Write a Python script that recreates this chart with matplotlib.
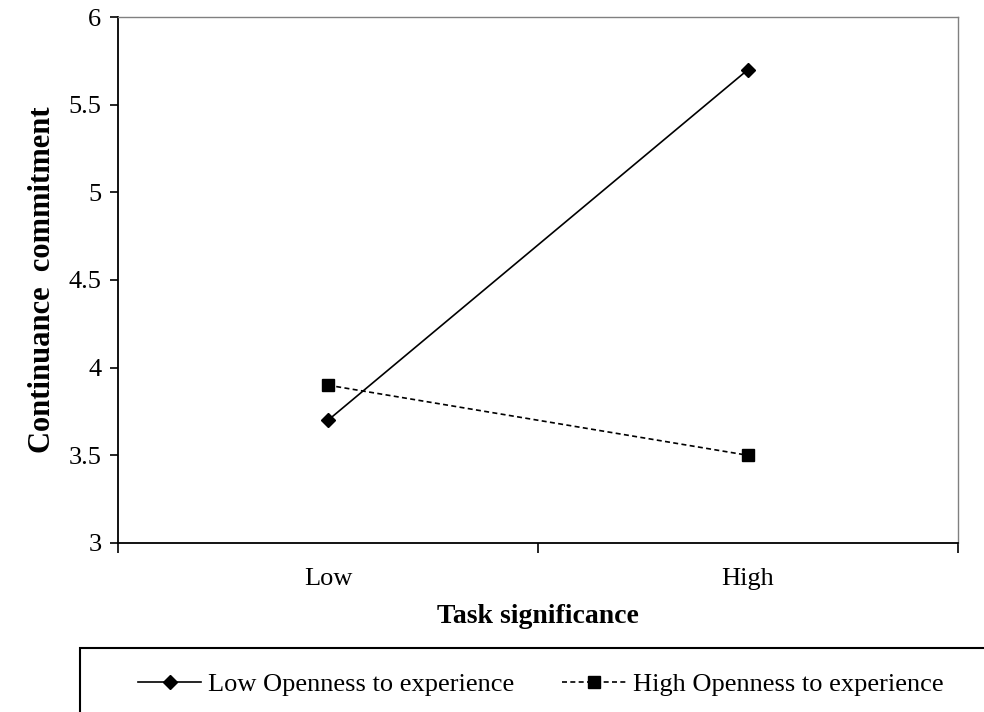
import matplotlib.pyplot as plt
from matplotlib.patches import Rectangle

plt.rcParams['font.family'] = ['Liberation Serif', 'DejaVu Serif']

categories = ["Low", "High"]
low_openness = [3.7, 5.7]
high_openness = [3.9, 3.5]
y_ticks = [3, 3.5, 4, 4.5, 5, 5.5, 6]
y_tick_labels = ["3", "3.5", "4", "4.5", "5", "5.5", "6"]

fig = plt.figure(figsize=(9.84, 7.12), dpi=100)
ax = fig.add_axes([0.1199, 0.2374, 0.8537, 0.7387])

x = [0.5, 1.5]
ax.plot(x, low_openness, color='black', lw=1.2, marker='D', markersize=7,
        label="Low Openness to experience")
ax.plot(x, high_openness, color='black', lw=1.2, linestyle=(0, (3, 2)),
        marker='s', markersize=9, label="High Openness to experience")

ax.set_xlim(0, 2)
ax.set_ylim(3, 6)
ax.set_xticks([0, 1, 2])
ax.set_xticklabels([])
ax.set_xticks(x, minor=True)
ax.set_xticklabels(categories, minor=True)
ax.tick_params(axis='x', which='minor', length=0, labelsize=19, pad=18)
ax.tick_params(axis='x', which='major', length=7, direction='out', width=1.2)
ax.set_yticks(y_ticks)
ax.set_yticklabels(y_tick_labels)
ax.tick_params(axis='y', length=6, direction='out', width=1.2, labelsize=19, pad=6)

for s in ['top', 'right']:
    ax.spines[s].set_color('#808080')
    ax.spines[s].set_linewidth(1)
for s in ['left', 'bottom']:
    ax.spines[s].set_linewidth(1.3)

ax.set_xlabel("Task significance", fontsize=20, fontweight='bold', labelpad=10)
ax.set_ylabel("Continuance  commitment", fontsize=22, fontweight='bold', labelpad=8)

# legend box (runs off the right and bottom edges, as in the original)
fig.patches.append(Rectangle((80 / 984, -0.05), 1.0, 0.05 + 1 - 648 / 712,
                             transform=fig.transFigure, fill=False,
                             edgecolor='black', lw=1.5, clip_on=False))

leg = fig.legend(loc='center left', bbox_to_anchor=(138 / 984, 1 - 684 / 712),
                 ncol=2, fontsize=19, frameon=False, handlelength=2.4,
                 handletextpad=0.27, borderpad=0, borderaxespad=0,
                 columnspacing=1.8)

fig.savefig("out.png", dpi=100)
